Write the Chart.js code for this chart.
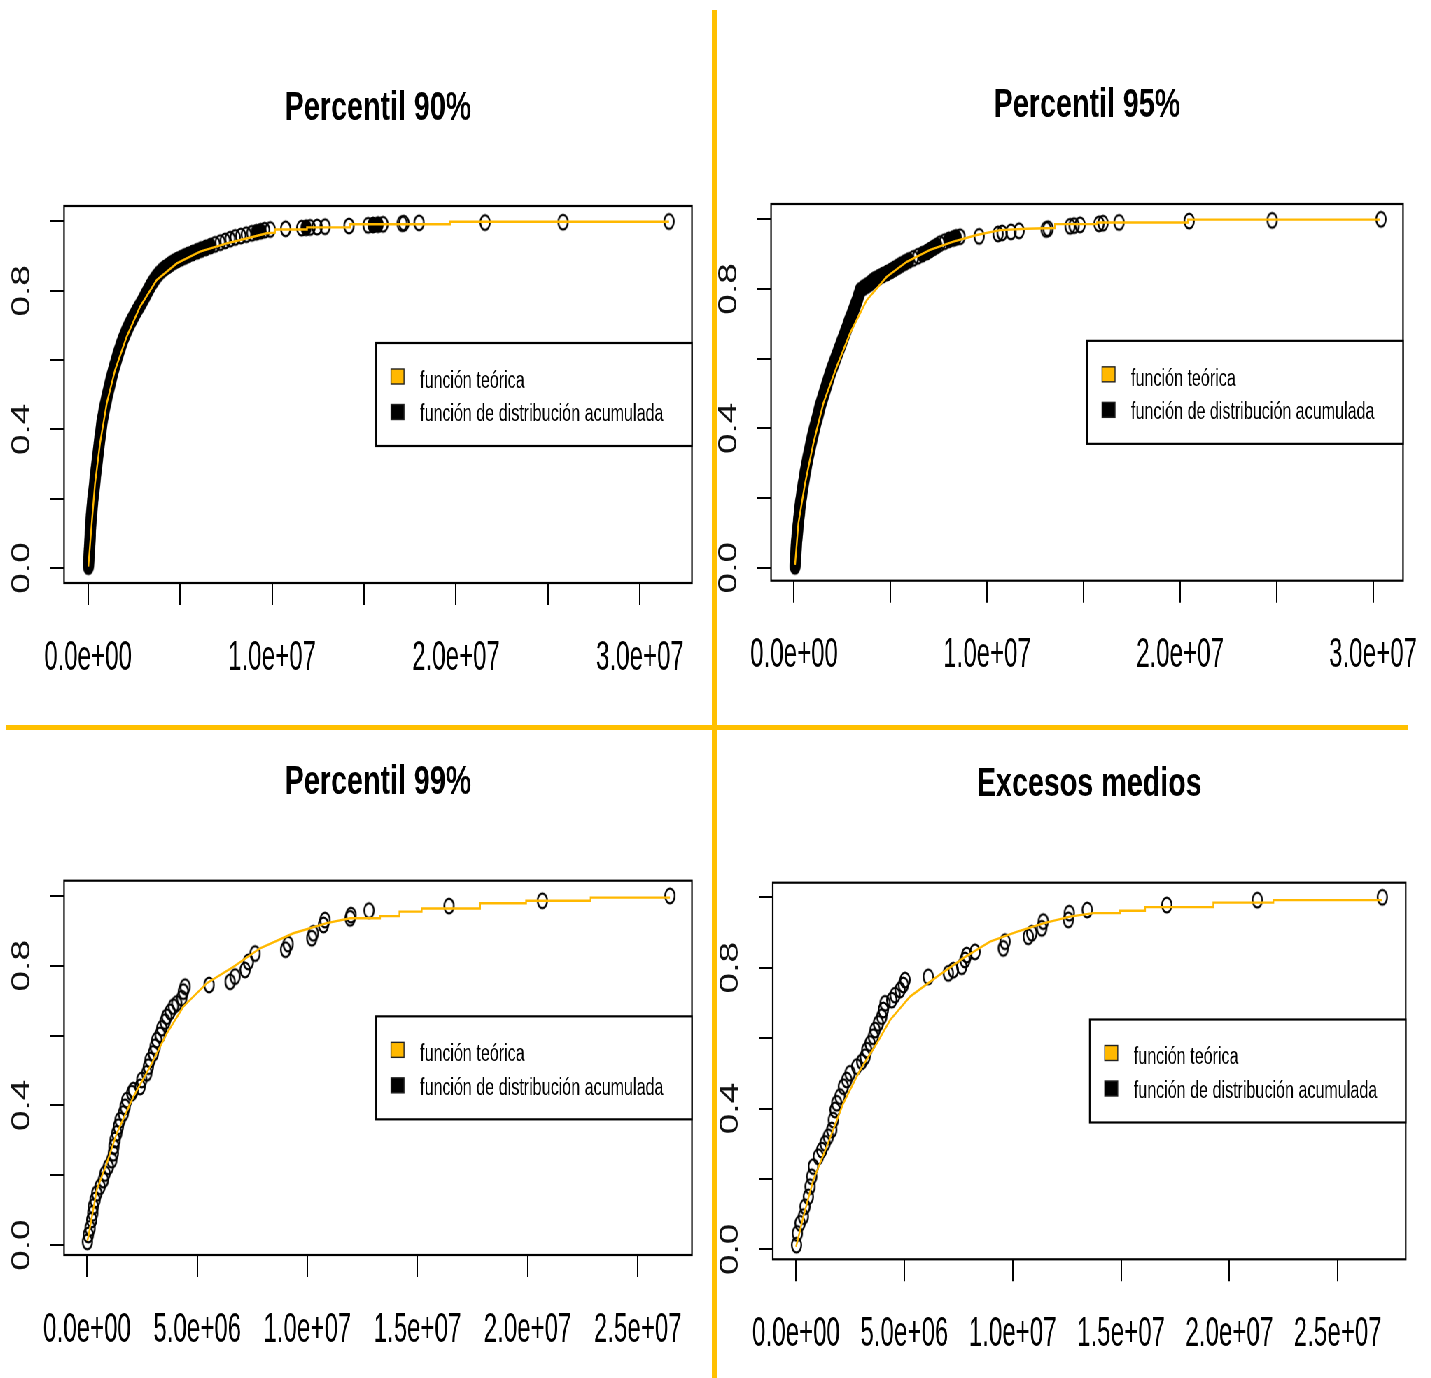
<!DOCTYPE html>
<html>
<head>
<meta charset="utf-8">
<script src="https://cdn.jsdelivr.net/npm/chart.js@4.4.1/dist/chart.umd.min.js"></script>
<style>
html,body{margin:0;padding:0;background:#fff;overflow:hidden;}
body{width:1431px;height:1378px;position:relative;}
#wrap{position:absolute;left:0;top:0;width:2200px;height:1378px;transform:scaleX(0.7);transform-origin:0 0;}
#wrap canvas{position:absolute;}
.sep{position:absolute;background:#FFC000;z-index:5;}
</style>
</head>
<body>
<div id="wrap">
<canvas id="c1"></canvas>
<canvas id="c2"></canvas>
<canvas id="c3"></canvas>
<canvas id="c4"></canvas>
</div>
<div class="sep" style="left:712px;top:10px;width:5px;height:1368px"></div>
<div class="sep" style="left:6px;top:725px;width:1402px;height:5px"></div>
<script>
// ---------------- data (x in millions, y = probability) ----------------
const titles = ['Percentil 90%', 'Percentil 95%', 'Percentil 99%', 'Excesos medios'];
const legendLabels = ['función teórica', 'función de distribución acumulada'];
const legendColors = ['#FFB800', '#000000'];

const xTicksA = [0, 5, 10, 15, 20, 25, 30];
const xLabelsA = ['0.0e+00', '', '1.0e+07', '', '2.0e+07', '', '3.0e+07'];
const xTicksB = [0, 5, 10, 15, 20, 25];
const xLabelsB = ['0.0e+00', '5.0e+06', '1.0e+07', '1.5e+07', '2.0e+07', '2.5e+07'];
const yTicks = [0, 0.2, 0.4, 0.6, 0.8, 1.0];
const yLabels = ['0.0', '', '0.4', '', '0.8', ''];

// Percentil 90%
const p90Line = [[0.016,0.004],[0.201,0.129],[0.380,0.244],[0.652,0.360],[1.016,0.475],[1.467,0.571],[2.103,0.668],[2.826,0.754],[3.734,0.831],[4.821,0.879],[6.087,0.913],[7.538,0.937],[8.984,0.956],[9.712,0.966],[10.16,0.968],[10.16,0.977],[11.90,0.977],[11.90,0.983],[14.24,0.983],[14.24,0.992],[19.67,0.992],[19.67,0.9994],[31.58,0.9994]];
const p90Points = [[0.02,0.004],[0.03,0.013],[0.04,0.022],[0.05,0.031],[0.06,0.040],[0.07,0.049],[0.08,0.058],[0.09,0.067],[0.10,0.076],[0.11,0.085],[0.12,0.094],[0.12,0.103],[0.13,0.112],[0.14,0.121],[0.15,0.130],[0.17,0.139],[0.18,0.148],[0.19,0.157],[0.21,0.166],[0.22,0.175],[0.24,0.184],[0.25,0.193],[0.27,0.202],[0.29,0.211],[0.31,0.220],[0.33,0.229],[0.35,0.238],[0.37,0.247],[0.38,0.256],[0.40,0.265],[0.42,0.274],[0.44,0.283],[0.46,0.292],[0.48,0.301],[0.50,0.310],[0.52,0.319],[0.54,0.328],[0.56,0.337],[0.58,0.346],[0.60,0.355],[0.62,0.364],[0.64,0.373],[0.67,0.382],[0.69,0.391],[0.71,0.400],[0.73,0.409],[0.75,0.418],[0.78,0.427],[0.81,0.436],[0.84,0.445],[0.87,0.454],[0.90,0.463],[0.94,0.472],[0.98,0.481],[1.01,0.490],[1.05,0.499],[1.09,0.508],[1.13,0.517],[1.17,0.526],[1.21,0.535],[1.25,0.544],[1.29,0.553],[1.34,0.562],[1.38,0.571],[1.43,0.580],[1.48,0.589],[1.53,0.598],[1.58,0.607],[1.63,0.616],[1.68,0.625],[1.74,0.634],[1.79,0.643],[1.85,0.652],[1.91,0.661],[1.98,0.670],[2.05,0.679],[2.12,0.688],[2.20,0.697],[2.28,0.706],[2.37,0.715],[2.46,0.724],[2.55,0.733],[2.64,0.742],[2.74,0.751],[2.84,0.760],[2.94,0.769],[3.03,0.778],[3.12,0.787],[3.21,0.796],[3.30,0.805],[3.39,0.814],[3.49,0.823],[3.60,0.832],[3.72,0.841],[3.86,0.850],[4.02,0.859],[4.18,0.866],[4.35,0.872],[4.50,0.878],[4.68,0.884],[4.85,0.889],[5.05,0.894],[5.25,0.899],[5.45,0.904],[5.68,0.909],[5.92,0.914],[6.15,0.919],[6.40,0.924],[6.65,0.929],[6.90,0.934],[7.18,0.939],[7.45,0.944],[7.72,0.949],[8.00,0.954],[8.30,0.958],[8.60,0.962],[8.90,0.966],[9.15,0.969],[9.38,0.972],[9.60,0.975],[9.90,0.977],[10.74,0.979],[11.61,0.981],[11.85,0.982],[12.07,0.983],[12.45,0.984],[12.88,0.985],[14.18,0.987],[15.22,0.989],[15.49,0.990],[15.76,0.991],[16.03,0.992],[17.07,0.994],[17.17,0.995],[17.99,0.996],[21.58,0.997],[25.82,0.998],[31.58,1.0]];

// Percentil 95%
const p95Line = [[0.052,0.008],[0.223,0.127],[0.570,0.242],[1.000,0.357],[1.518,0.472],[2.212,0.577],[2.902,0.673],[3.767,0.768],[4.803,0.835],[5.839,0.878],[7.047,0.912],[8.254,0.936],[9.466,0.955],[10.67,0.969],[12.06,0.973],[13.52,0.975],[13.52,0.986],[15.70,0.986],[15.70,0.991],[20.41,0.991],[20.41,0.999],[30.36,0.999]];
const p95Points = [[0.05,0.004],[0.06,0.013],[0.07,0.022],[0.08,0.031],[0.09,0.040],[0.10,0.049],[0.11,0.058],[0.12,0.067],[0.13,0.076],[0.15,0.085],[0.16,0.094],[0.18,0.103],[0.19,0.112],[0.21,0.121],[0.23,0.130],[0.24,0.139],[0.26,0.148],[0.28,0.157],[0.29,0.166],[0.31,0.175],[0.33,0.184],[0.35,0.193],[0.38,0.202],[0.40,0.211],[0.42,0.220],[0.45,0.229],[0.47,0.238],[0.50,0.247],[0.53,0.256],[0.55,0.265],[0.58,0.274],[0.61,0.283],[0.64,0.292],[0.67,0.301],[0.70,0.310],[0.73,0.319],[0.77,0.328],[0.80,0.337],[0.84,0.346],[0.87,0.355],[0.91,0.364],[0.94,0.373],[0.98,0.382],[1.02,0.391],[1.06,0.400],[1.10,0.409],[1.14,0.418],[1.19,0.427],[1.23,0.436],[1.27,0.445],[1.31,0.454],[1.35,0.463],[1.40,0.472],[1.45,0.481],[1.50,0.490],[1.55,0.499],[1.60,0.508],[1.65,0.517],[1.70,0.526],[1.75,0.535],[1.80,0.544],[1.85,0.553],[1.90,0.562],[1.96,0.571],[2.02,0.580],[2.08,0.589],[2.14,0.598],[2.20,0.607],[2.26,0.616],[2.32,0.625],[2.38,0.634],[2.44,0.643],[2.50,0.652],[2.56,0.661],[2.62,0.670],[2.68,0.679],[2.74,0.688],[2.80,0.697],[2.85,0.706],[2.91,0.715],[2.98,0.724],[3.04,0.733],[3.10,0.742],[3.16,0.751],[3.22,0.760],[3.28,0.769],[3.33,0.778],[3.38,0.787],[3.43,0.796],[3.60,0.804],[3.78,0.810],[3.93,0.816],[4.05,0.822],[4.20,0.828],[4.40,0.834],[4.60,0.840],[4.82,0.846],[5.02,0.852],[5.20,0.858],[5.38,0.864],[5.55,0.870],[5.75,0.876],[5.95,0.882],[6.18,0.888],[6.42,0.894],[6.65,0.900],[6.88,0.906],[7.05,0.912],[7.22,0.918],[7.40,0.924],[7.56,0.930],[7.80,0.936],[8.02,0.941],[8.25,0.945],[8.40,0.948],[8.60,0.950],[9.59,0.951],[10.57,0.958],[10.78,0.961],[11.24,0.964],[11.66,0.967],[13.06,0.971],[13.16,0.973],[14.30,0.980],[14.51,0.982],[14.82,0.984],[15.80,0.987],[16.01,0.989],[16.84,0.991],[20.47,0.995],[24.77,0.997],[30.41,1.0]];

// Percentil 99%
const p99Line = [[0.014,0.012],[0.059,0.024],[0.440,0.158],[0.894,0.234],[1.348,0.320],[2.102,0.425],[2.860,0.511],[3.618,0.606],[4.371,0.683],[5.434,0.750],[6.641,0.797],[7.853,0.850],[9.365,0.893],[10.88,0.922],[11.94,0.936],[13.30,0.936],[13.30,0.942],[14.18,0.942],[14.18,0.955],[15.19,0.955],[15.19,0.964],[17.84,0.964],[17.84,0.979],[19.93,0.979],[19.93,0.986],[22.86,0.986],[22.86,0.995],[26.46,0.995]];
const p99Points = [[0.014,0.009],[0.059,0.029],[0.136,0.048],[0.213,0.072],[0.259,0.091],[0.286,0.110],[0.363,0.129],[0.440,0.148],[0.590,0.167],[0.740,0.186],[0.817,0.205],[0.967,0.224],[1.121,0.243],[1.194,0.263],[1.220,0.282],[1.271,0.301],[1.348,0.320],[1.421,0.339],[1.498,0.358],[1.648,0.377],[1.725,0.396],[1.802,0.415],[2.029,0.435],[2.102,0.444],[2.406,0.453],[2.483,0.473],[2.710,0.492],[2.783,0.511],[2.860,0.530],[3.010,0.549],[3.087,0.568],[3.164,0.587],[3.314,0.602],[3.391,0.621],[3.541,0.640],[3.618,0.654],[3.768,0.668],[3.917,0.683],[4.072,0.692],[4.299,0.707],[4.371,0.726],[4.449,0.740],[5.538,0.745],[6.491,0.754],[6.718,0.769],[7.172,0.788],[7.322,0.811],[7.626,0.835],[9.011,0.846],[9.124,0.862],[10.20,0.879],[10.27,0.893],[10.73,0.917],[10.80,0.931],[11.94,0.936],[11.98,0.945],[12.80,0.958],[16.43,0.971],[20.67,0.986],[26.46,1.0]];

// Excesos medios
const excLine = [[0.0,0.007],[0.337,0.093],[0.798,0.197],[1.417,0.292],[2.183,0.415],[2.953,0.509],[3.724,0.585],[4.338,0.651],[5.261,0.718],[6.493,0.774],[7.720,0.827],[8.953,0.874],[10.18,0.902],[11.41,0.926],[12.64,0.945],[13.72,0.955],[14.95,0.955],[14.95,0.962],[16.11,0.962],[16.11,0.972],[19.26,0.972],[19.26,0.985],[22.03,0.985],[22.03,0.992],[27.06,0.992]];
const excPoints = [[0.02,0.012],[0.060,0.045],[0.185,0.074],[0.337,0.093],[0.415,0.121],[0.568,0.149],[0.646,0.178],[0.724,0.206],[0.798,0.235],[1.029,0.263],[1.186,0.282],[1.338,0.301],[1.491,0.320],[1.647,0.339],[1.721,0.367],[1.800,0.396],[1.878,0.415],[2.030,0.434],[2.183,0.462],[2.340,0.481],[2.492,0.500],[2.801,0.519],[3.032,0.533],[3.184,0.547],[3.263,0.566],[3.415,0.585],[3.567,0.604],[3.646,0.623],[3.798,0.642],[3.955,0.661],[4.029,0.680],[4.107,0.699],[4.416,0.708],[4.569,0.722],[4.799,0.737],[4.952,0.751],[5.030,0.765],[6.105,0.774],[7.028,0.784],[7.259,0.793],[7.647,0.803],[7.799,0.822],[7.877,0.836],[8.260,0.845],[9.566,0.855],[9.645,0.874],[10.72,0.888],[10.88,0.898],[11.34,0.912],[11.41,0.931],[12.57,0.936],[12.61,0.955],[13.44,0.964],[17.11,0.978],[21.29,0.992],[27.06,1.0]];

// ---------------- layout / style ----------------
const SQ = 0.7;          // horizontal condensation of the whole picture
const XLAB_SQ = 0.82;    // extra condensation of the x tick labels
const SANS = "'Liberation Sans', Arial, sans-serif";

const panels = [
  {id:'c1', left:0,   top:0,   w:712, h:725, box:[64,206,692,583],            titleY:109, xr:[-1.304,32.826], yr:[-0.0433,1.0447], xt:xTicksA, xl:xLabelsA, line:p90Line, pts:p90Points, title:titles[0]},
  {id:'c2', left:716, top:0,   w:780, h:725, box:[771,204,1403,580.7],        titleY:106, xr:[-1.192,31.554], yr:[-0.0373,1.0439], xt:xTicksA, xl:xLabelsA, line:p95Line, pts:p95Points, title:titles[1]},
  {id:'c3', left:0,   top:729, w:712, h:649, box:[64,880.7,692,1255],         titleY:783, xr:[-1.044,27.46],  yr:[-0.0286,1.0436], xt:xTicksB, xl:xLabelsB, line:p99Line, pts:p99Points, title:titles[2]},
  {id:'c4', left:716, top:729, w:780, h:649, box:[772.7,882.7,1405.7,1259.3], titleY:785, xr:[-1.075,28.14],  yr:[-0.0284,1.0415], xt:xTicksB, xl:xLabelsB, line:excLine, pts:excPoints, title:titles[3]}
];

// open ellipse marker (R pch=1 as it appears in the stretched picture)
function makeMarker(rx, ry, lw, filled) {
  const c = document.createElement('canvas');
  c.width = Math.ceil(2 * rx + lw + 2);
  c.height = Math.ceil(2 * ry + lw + 2);
  const g = c.getContext('2d');
  g.strokeStyle = '#000';
  g.fillStyle = '#000';
  g.lineWidth = lw;
  g.beginPath();
  g.ellipse(c.width / 2, c.height / 2, rx, ry, 0, 0, Math.PI * 2);
  if (filled) g.fill();
  g.stroke();
  return c;
}
const openMarker = makeMarker(6.8, 7.4, 2.4, false);
// where hundreds of circles pile on top of each other the outlines merge into solid ink
const inkMarker = makeMarker(6.8, 7.4, 2.4, true);

function markerFor(p) {
  const pxX = (p.box[2] - p.box[0]) / (p.xr[1] - p.xr[0]);
  const pxY = (p.box[3] - p.box[1]) / (p.yr[1] - p.yr[0]);
  return (c) => {
    const d = p.pts, i = c.dataIndex;
    const dist = k => (k < 0 || k >= d.length) ? null :
      Math.hypot((d[k][0] - d[i][0]) * pxX, (d[k][1] - d[i][1]) * pxY);
    const a = dist(i - 1), b = dist(i + 1);
    const ns = [a, b].filter(v => v !== null);
    return ns.every(v => v < 5) ? inkMarker : openMarker;
  };
}

const framePlugin = {
  id: 'frameAndLegend',
  afterDatasetsDraw(chart) {
    const {ctx, chartArea: a} = chart;
    ctx.save();
    ctx.strokeStyle = '#000';
    ctx.lineWidth = 2.2;
    ctx.strokeRect(a.left, a.top, a.right - a.left, a.bottom - a.top);
    ctx.restore();
  },
  afterDraw(chart, args, opts) {
    const {ctx, chartArea: a} = chart;
    // x tick labels (from the x scale's ticks)
    const xs = chart.scales.x;
    ctx.save();
    ctx.fillStyle = '#000';
    ctx.font = '42px ' + SANS;
    ctx.textAlign = 'center';
    ctx.textBaseline = 'middle';
    xs.ticks.forEach((t, i) => {
      const lab = opts.labels[i];
      if (!lab) return;
      const px = xs.getPixelForValue(t.value);
      ctx.save();
      ctx.translate(px, a.bottom + 75);
      ctx.scale(XLAB_SQ, 1);
      ctx.fillText(lab, 0, 0);
      ctx.restore();
    });
    ctx.restore();

    // legend box (R legend("right"))
    const bw = 316 / SQ, bh = 103;
    const right = a.right, left = right - bw;
    const top = (a.top + a.bottom) / 2 - bh / 2;
    ctx.save();
    ctx.fillStyle = '#fff';
    ctx.fillRect(left, top, bw, bh);
    ctx.strokeStyle = '#000';
    ctx.lineWidth = 2.2;
    ctx.strokeRect(left, top, bw, bh);
    const sqW = 13 / SQ, sqH = 15;
    const rows = [{sq: 33.5, tx: 38.5}, {sq: 69, tx: 72}];
    chart.data.datasets.forEach((d, i) => {
      const cx = left + 21.5 / SQ;
      ctx.fillStyle = legendColors[i];
      ctx.fillRect(cx - sqW / 2, top + rows[i].sq - sqH / 2, sqW, sqH);
      ctx.strokeStyle = '#222';
      ctx.lineWidth = 1.4;
      ctx.strokeRect(cx - sqW / 2, top + rows[i].sq - sqH / 2, sqW, sqH);
      ctx.fillStyle = '#000';
      ctx.font = '23px ' + SANS;
      ctx.textBaseline = 'middle';
      ctx.textAlign = 'left';
      ctx.fillText(d.label, left + 44 / SQ, top + rows[i].tx);
    });
    ctx.restore();
  }
};

panels.forEach(p => {
  const cv = document.getElementById(p.id);
  const W = Math.round(p.w / SQ), H = p.h;
  cv.width = W; cv.height = H;
  cv.style.width = W + 'px'; cv.style.height = H + 'px';
  cv.style.left = (p.left / SQ) + 'px'; cv.style.top = p.top + 'px';
  const L = (p.box[0] - p.left) / SQ;
  const R = (p.box[2] - p.left) / SQ;
  const T = p.box[1] - p.top;
  const B = p.box[3] - p.top;
  const tPadTop = p.titleY - p.top - 24.6;
  const tPadBot = T - tPadTop - 49.2;

  new Chart(cv, {
    type: 'scatter',
    data: {
      datasets: [
        {label: legendLabels[0], data: p.line.map(([x, y]) => ({x, y})), showLine: true,
         borderColor: legendColors[0], borderWidth: 2.4, pointRadius: 0, pointHoverRadius: 0, fill: false, tension: 0},
        {label: legendLabels[1], data: p.pts.map(([x, y]) => ({x, y})), showLine: false,
         pointStyle: markerFor(p), pointRadius: 8, pointHoverRadius: 8, borderColor: '#000', borderWidth: 0,
         backgroundColor: 'rgba(0,0,0,0)'}
      ]
    },
    options: {
      responsive: false, animation: false, devicePixelRatio: 1,
      layout: {padding: {left: 0, right: W - R, top: 0, bottom: 0}},
      plugins: {
        legend: {display: false},
        tooltip: {enabled: false},
        title: {display: true, text: p.title, fullSize: false, color: '#000',
                font: {family: SANS, size: 41, weight: 'bold', lineHeight: 1.2},
                padding: {top: tPadTop, bottom: tPadBot}},
        frameAndLegend: {labels: p.xl}
      },
      scales: {
        x: {
          type: 'linear', min: p.xr[0], max: p.xr[1],
          afterBuildTicks: s => { s.ticks = p.xt.map(v => ({value: v})); },
          afterFit: s => { s.height = H - B; },
          ticks: {display: false, autoSkip: false},
          grid: {drawOnChartArea: false, drawTicks: true, tickLength: 22, color: '#000', lineWidth: 2},
          border: {display: false}
        },
        y: {
          type: 'linear', min: p.yr[0], max: p.yr[1],
          afterBuildTicks: s => { s.ticks = yTicks.map(v => ({value: v})); },
          afterFit: s => { s.width = L; },
          ticks: {autoSkip: false, minRotation: 90, maxRotation: 90, crossAlign: 'center', padding: 14.3,
                  color: '#111', font: {family: SANS, size: 37}, callback: (v, i) => yLabels[i]},
          grid: {drawOnChartArea: false, drawTicks: true, tickLength: 20, color: '#000', lineWidth: 2},
          border: {display: false}
        }
      }
    },
    plugins: [framePlugin]
  });
});
</script>
</body>
</html>
